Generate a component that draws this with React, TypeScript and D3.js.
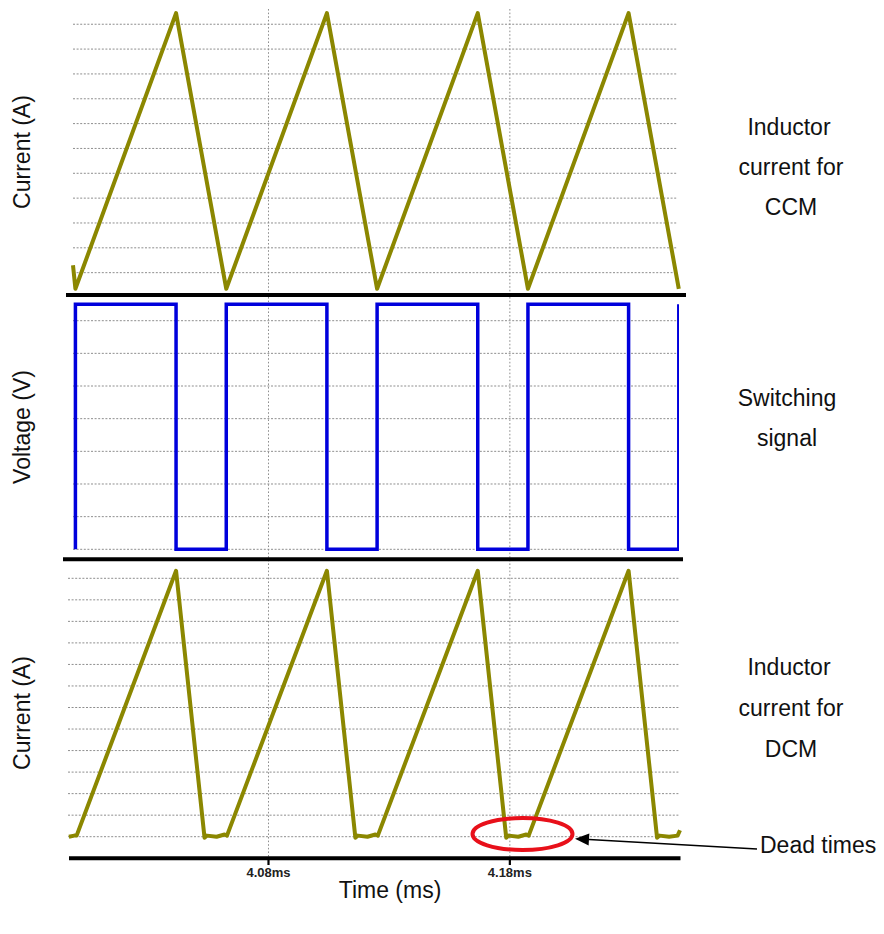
import React from 'react';
import * as d3 from 'd3';

// Inductor current in continuous conduction mode (time in ms, current in grid divisions)
const ccmTime = [3.999, 4.0, 4.0417, 4.0625, 4.1042, 4.125, 4.1667, 4.1875, 4.2292, 4.25];
const ccmCurrent = [1.3, 0.35, 11.45, 0.35, 11.45, 0.35, 11.45, 0.35, 11.45, 0.35];

// Switching signal: edge times and the level held after each edge
const switchTime = [4.0, 4.0, 4.0417, 4.0625, 4.1042, 4.125, 4.1667, 4.1875, 4.2292, 4.25];
const switchVoltage = [0, 7.5, 0, 7.5, 0, 7.5, 0, 7.5, 0, 7.5];

// Inductor current in discontinuous conduction mode, with its dead times
const dcmTime = [
  3.9973, 3.9995, 4.0005, 4.0417, 4.0535, 4.0545, 4.0585, 4.0618, 4.0628,
  4.1042, 4.1160, 4.1170, 4.1210, 4.1243, 4.1253,
  4.1667, 4.1785, 4.1795, 4.1835, 4.1868, 4.1878,
  4.2292, 4.2410, 4.2420, 4.2460, 4.2495, 4.2505,
];
const dcmCurrent = [
  0, 0.05, 0.05, 12.35, -0.05, 0.05, 0.0, 0.1, 0.05,
  12.35, -0.05, 0.05, 0.0, 0.1, 0.05,
  12.35, -0.05, 0.05, 0.0, 0.1, 0.05,
  12.35, -0.05, 0.05, 0.0, 0.05, 0.3,
];

const tickTimes = [4.08, 4.18];
const tickLabels = ['4.08ms', '4.18ms'];

const topGrid = [1, 2, 3, 4, 5, 6, 7, 8, 9, 10, 11];
const midGrid = [0, 1, 2, 3, 4, 5, 6, 7];
const botGrid = [0, 1, 2, 3, 4, 5, 6, 7, 8, 9, 10, 11, 12];

const FONT = "'Liberation Sans', Arial, Helvetica, sans-serif";
const OLIVE = '#8b8700';
const BLUE = '#0000dc';
const GRID = '#8e8e8e';

export default function App() {
  const x = d3.scaleLinear().domain([3.999, 4.2505]).range([73, 680]);
  const yTop = d3.scaleLinear().domain([0, 12]).range([297.5, -0.6]);
  const yMid = d3.scaleLinear().domain([0, 7]).range([549.3, 320.7]);
  const yBot = d3.scaleLinear().domain([0, 12]).range([836.7, 578.3]);

  const ccmPath = d3
    .line<number>()
    .x((_, i) => x(ccmTime[i]))
    .y((d) => yTop(d))(ccmCurrent);

  const switchPath = d3
    .line<number>()
    .x((_, i) => x(switchTime[i]))
    .y((d) => yMid(d))
    .curve(d3.curveStepAfter)(switchVoltage);

  const dcmPath = d3
    .line<number>()
    .x((_, i) => x(dcmTime[i]))
    .y((d) => yBot(d))(dcmCurrent);

  // annotation arrow geometry
  const tail = [757, 849];
  const tip = [575, 838.7];
  const ang = Math.atan2(tip[1] - tail[1], tip[0] - tail[0]);
  const headLen = 14;
  const headHalf = 6;
  const bx = tip[0] - headLen * Math.cos(ang);
  const by = tip[1] - headLen * Math.sin(ang);
  const head = [
    [tip[0], tip[1]],
    [bx + headHalf * Math.sin(ang), by - headHalf * Math.cos(ang)],
    [bx - headHalf * Math.sin(ang), by + headHalf * Math.cos(ang)],
  ];

  const textStyle = { fontFamily: FONT, fontSize: 23, fill: '#111' } as const;

  return (
    <svg
      width={884}
      height={934}
      viewBox="0 0 884 934"
      style={{ position: 'absolute', left: 0, top: 0, background: '#fff' }}
    >
      <defs>
        <clipPath id="midClip">
          <rect x={60} y={290} width={619} height={270} />
        </clipPath>
      </defs>
      <rect x={0} y={0} width={884} height={934} fill="#fff" />

      {/* horizontal grid */}
      <g stroke={GRID} strokeWidth={1} strokeDasharray="2,1.6">
        {topGrid.map((g) => (
          <line key={'t' + g} x1={73} x2={677} y1={yTop(g)} y2={yTop(g)} />
        ))}
        {midGrid.map((g) => (
          <line key={'m' + g} x1={73} x2={677} y1={yMid(g)} y2={yMid(g)} />
        ))}
        {botGrid.map((g) => (
          <line key={'b' + g} x1={68} x2={680} y1={yBot(g)} y2={yBot(g)} />
        ))}
      </g>

      {/* vertical grid at tick times */}
      <g stroke={GRID} strokeWidth={1} strokeDasharray="1.6,2">
        {tickTimes.map((t) => (
          <line key={'v' + t} x1={x(t)} x2={x(t)} y1={9} y2={858} />
        ))}
      </g>

      {/* panel separators / axes */}
      <g stroke="#000" strokeWidth={4}>
        <line x1={66} x2={686} y1={295} y2={295} />
        <line x1={63} x2={683} y1={559.3} y2={559.3} />
        <line x1={69} x2={680.5} y1={858.3} y2={858.3} />
      </g>

      {/* waveforms */}
      <path d={ccmPath ?? ''} fill="none" stroke={OLIVE} strokeWidth={4} strokeLinejoin="round" />
      <path
        d={switchPath ?? ''}
        fill="none"
        stroke={BLUE}
        strokeWidth={3.5}
        clipPath="url(#midClip)"
      />
      <path d={dcmPath ?? ''} fill="none" stroke={OLIVE} strokeWidth={4} strokeLinejoin="round" />

      {/* time axis ticks */}
      {tickTimes.map((t, i) => (
        <g key={'tk' + t}>
          <line x1={x(t)} x2={x(t)} y1={858} y2={865} stroke="#000" strokeWidth={2.2} />
          <text
            x={x(t)}
            y={877}
            textAnchor="middle"
            style={{ fontFamily: FONT, fontSize: 13, fontWeight: 700, fill: '#222' }}
          >
            {tickLabels[i]}
          </text>
        </g>
      ))}

      {/* axis titles */}
      <text transform="translate(30,152) rotate(-90)" textAnchor="middle" style={textStyle}>
        Current (A)
      </text>
      <text transform="translate(30,427) rotate(-90)" textAnchor="middle" style={textStyle}>
        Voltage (V)
      </text>
      <text transform="translate(30,713) rotate(-90)" textAnchor="middle" style={textStyle}>
        Current (A)
      </text>
      <text x={390} y={898} textAnchor="middle" style={textStyle}>
        Time (ms)
      </text>

      {/* panel descriptions */}
      <g textAnchor="middle" style={textStyle}>
        <text x={789} y={135}>Inductor</text>
        <text x={791} y={175}>current for</text>
        <text x={791} y={215}>CCM</text>
        <text x={787} y={406}>Switching</text>
        <text x={787} y={446}>signal</text>
        <text x={789} y={675}>Inductor</text>
        <text x={791} y={716}>current for</text>
        <text x={791} y={757}>DCM</text>
      </g>

      {/* dead time annotation */}
      <ellipse cx={522.5} cy={834} rx={50} ry={16} fill="none" stroke="#e8101a" strokeWidth={4} />
      <line x1={tail[0]} y1={tail[1]} x2={bx} y2={by} stroke="#000" strokeWidth={1.6} />
      <polygon points={head.map((p) => p.join(',')).join(' ')} fill="#000" />
      <text x={760} y={853} style={textStyle}>
        Dead times
      </text>
    </svg>
  );
}
